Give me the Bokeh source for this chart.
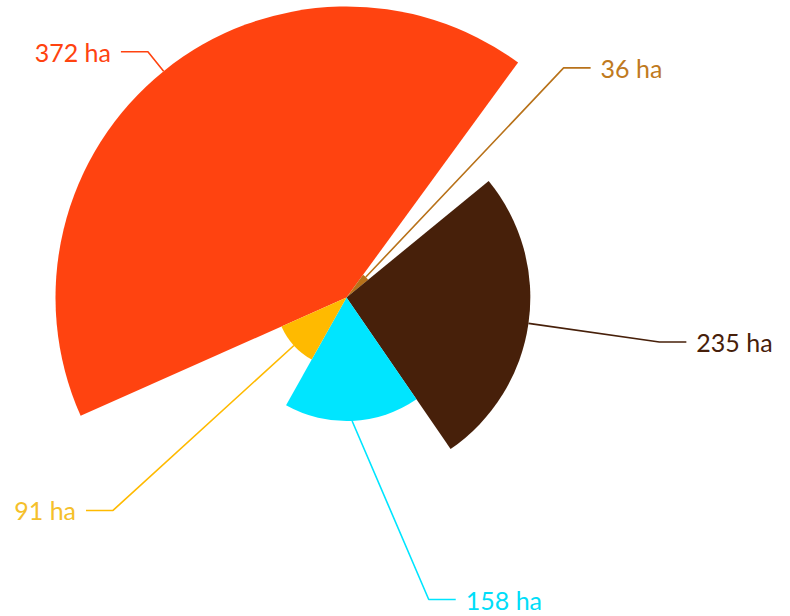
import math
from bokeh.plotting import figure
from bokeh.models import Range1d, ColumnDataSource
from bokeh.embed import file_html
from bokeh.resources import INLINE
from bokeh.core.properties import value

# ---- data ----
labels = ["372 ha", "36 ha", "235 ha", "158 ha", "91 ha"]
values = [372, 36, 235, 158, 91]
slice_colors = ["#FF4310", "#B8721A", "#47200A", "#00E5FF", "#FFBA00"]
label_colors = ["#FF4310", "#C07A1E", "#47200A", "#00DDF8", "#F5C02A"]

# ---- layout ----
W, H = 790, 616
R_MAX = 291.0          # radius of the largest slice
R_ELBOW = 316.0        # radius of the leader-line elbow
START_DEG = 204.0      # slices run clockwise from here
Y_LIMIT = -302.0       # lowest allowed elbow
HSEG = 27.0
GAP = 10.0

p = figure(width=W, height=H, output_backend="svg", toolbar_location=None,
           x_range=Range1d(-346, 444), y_range=Range1d(-319, 297),
           x_axis_type=None, y_axis_type=None, min_border=0)
p.grid.visible = False
p.outline_line_color = None
p.background_fill_color = "white"
p.border_fill_color = "white"

total = float(sum(values))
vmax = float(max(values))
starts, ends, radii, mids = [], [], [], []
a = math.radians(START_DEG)
for v in values:
    span = 2 * math.pi * v / total
    b = a - span
    starts.append(b)
    ends.append(a)
    mids.append((a + b) / 2)
    radii.append(v / vmax * R_MAX)
    a = b

src = ColumnDataSource(dict(start=starts, end=ends, r=radii, color=slice_colors))
p.wedge(x=0, y=0, radius="r", start_angle="start", end_angle="end",
        fill_color="color", line_color=None, source=src)

xs, ys, tx, ty, align = [], [], [], [], []
for r, m in zip(radii, mids):
    x0, y0 = r * math.cos(m), r * math.sin(m)
    ex, ey = R_ELBOW * math.cos(m), R_ELBOW * math.sin(m)
    if ey < Y_LIMIT:
        ey = Y_LIMIT
        ex = math.copysign(math.sqrt((R_ELBOW - 3) ** 2 - ey ** 2), math.cos(m))
    side = 1 if math.cos(m) >= 0 else -1
    hx = ex + side * HSEG
    xs.append([x0, ex, hx])
    ys.append([y0, ey, ey])
    tx.append(hx + side * GAP)
    ty.append(ey)
    align.append("left" if side > 0 else "right")

lsrc = ColumnDataSource(dict(xs=xs, ys=ys, color=slice_colors))
p.multi_line(xs="xs", ys="ys", line_color="color", line_width=1.6, source=lsrc)

tsrc = ColumnDataSource(dict(x=tx, y=ty, text=labels, color=label_colors, align=align))
p.text(x="x", y="y", text="text", text_color="color", text_align="align",
       text_baseline="middle", text_font=value("Lato"), text_font_size="25px",
       source=tsrc)

open("out.html", "w").write(file_html(p, INLINE))
